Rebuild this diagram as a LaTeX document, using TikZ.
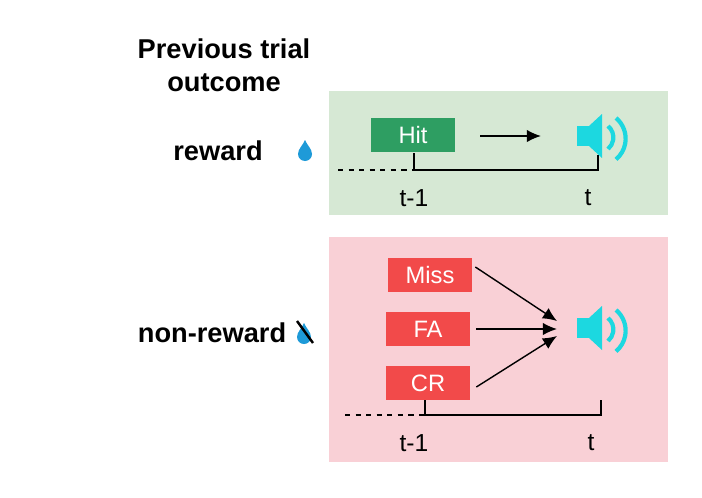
\documentclass[tikz,border=0pt]{standalone}
\usepackage{fontspec}
\setmainfont{Liberation Sans}
\usetikzlibrary{positioning,arrows.meta}
\definecolor{greenbg}{HTML}{D6E8D4}
\definecolor{redbg}{HTML}{F9D0D6}
\definecolor{hitgreen}{HTML}{2E9E62}
\definecolor{boxred}{HTML}{F24A4A}
\definecolor{cyanspk}{HTML}{1CD8E0}
\definecolor{dropblue}{HTML}{1E9AD8}
\tikzset{
  outcome/.style={fill=#1, text=white, minimum width=84*0.02cm, minimum height=34*0.02cm, inner sep=0pt, font=\fontsize{13.5}{15}\selectfont},
  lbl/.style={font=\bfseries\fontsize{15.5}{19}\selectfont, align=center},
  tlbl/.style={font=\fontsize{14}{16}\selectfont},
  arr/.style={-{Latex[length=8pt,width=7pt]}, thick},
  line/.style={thick},
  speaker/.pic={
    \fill[cyanspk] (-26,-10) rectangle (-14,10);
    \fill[cyanspk] (-14,-10) -- (-1,-22) -- (-1,22) -- (-14,10) -- cycle;
    \draw[cyanspk, line width=2.4pt] (5,-10) arc (-50:50:15);
    \draw[cyanspk, line width=2.4pt] (13,-18) arc (-50:50:27);
  },
  drop/.pic={
    \fill[dropblue] (0,-10) .. controls (2,-5) and (7,-1) .. (7,4)
      arc (0:180:7) .. controls (-7,-1) and (-2,-5) .. cycle;
  }
}
\begin{document}
\begin{tikzpicture}[x=0.02cm, y=-0.02cm]
  \useasboundingbox (0,0) rectangle (702,497);
  % backgrounds
  \fill[greenbg] (329,91) rectangle (668,215);
  \fill[redbg] (329,237) rectangle (668,462);
  % left labels
  \node[lbl] (title) at (224,65) {Previous trial\\outcome};
  \node[lbl] (rew) at (218,151) {reward};
  \node[lbl] (nonrew) at (212,333) {non-reward};
  \pic at (305,150) {drop};
  \pic at (304,333) {drop};
  \draw[line width=1.4pt] (297,321) -- (313,343);
  % reward row
  \node[outcome=hitgreen] (hit) at (413,135) {Hit};
  \coordinate (a1) at (480,136);
  \coordinate (a2) at (541,136);
  \draw[arr] (a1) -- (a2);
  \pic at (603,136) {speaker};
  \coordinate (h0) at (338,170);
  \coordinate (h1) at (414,170);
  \coordinate (h2) at (598,170);
  \draw[line, dashed] (h0) -- (h1);
  \draw[line] (414,153) -- (h1) -- (h2) -- (598,155);
  \node[tlbl] (tm1a) at (414,198) {t-1};
  \node[tlbl] (ta) at (588,198) {t};
  % non-reward row
  \node[outcome=boxred] (miss) at (430,275) {Miss};
  \node[outcome=boxred] (fa) at (428,329) {FA};
  \node[outcome=boxred] (cr) at (428,383) {CR};
  \coordinate (tgt1) at (557,321);
  \coordinate (tgt2) at (557,329);
  \coordinate (tgt3) at (557,336);
  \draw[arr] (miss.east) ++(3,-8) -- (tgt1);
  \draw[arr] (fa.east) ++(6,0) -- (tgt2);
  \draw[arr] (cr.east) ++(6,4) -- (tgt3);
  \pic at (603,328) {speaker};
  \coordinate (n0) at (345,415);
  \coordinate (n1) at (425,415);
  \coordinate (n2) at (601,415);
  \draw[line, dashed] (n0) -- (n1);
  \draw[line] (425,400) -- (n1) -- (n2) -- (601,400);
  \node[tlbl] (tm1b) at (414,443) {t-1};
  \node[tlbl] (tb) at (591,443) {t};
\end{tikzpicture}
\end{document}
